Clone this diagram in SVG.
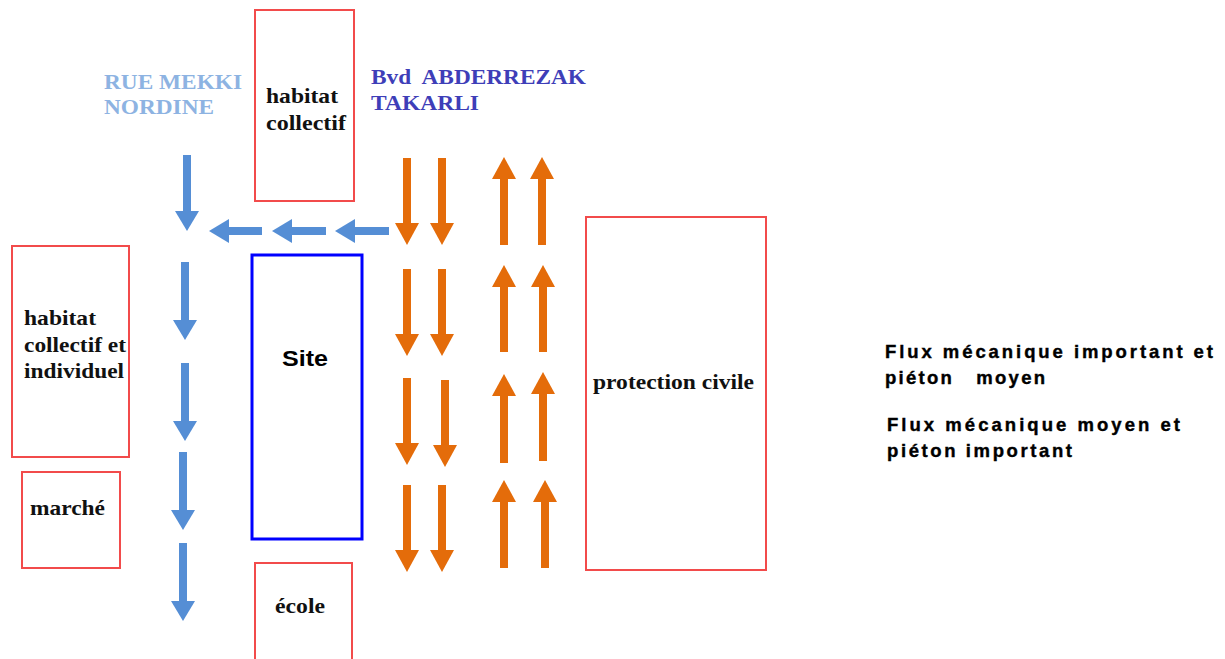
<svg xmlns="http://www.w3.org/2000/svg" width="1225" height="659" viewBox="0 0 1225 659">
<style>
.box{fill:#fff;stroke:#f24b4b;stroke-width:2}
.site{fill:#fff;stroke:#0000ff;stroke-width:3}
.lbl{font-family:"Liberation Serif","Times New Roman",serif;font-weight:bold;font-size:22px;fill:#111}
.road1{font-family:"Liberation Serif","Times New Roman",serif;font-weight:bold;font-size:22px;fill:#8db3e2;white-space:pre}
.road2{font-family:"Liberation Serif","Times New Roman",serif;font-weight:bold;font-size:22px;fill:#3e3eb8;white-space:pre}
.sans{font-family:"Liberation Sans",Arial,sans-serif;font-weight:bold;fill:#000}
.leg{font-family:"Liberation Sans",Arial,sans-serif;font-weight:bold;font-size:18.5px;fill:#000;stroke:#000;stroke-width:0.4;white-space:pre}
.b{stroke:#558ed5;stroke-width:8;fill:none}
.o{stroke:#e46c0a;stroke-width:8;fill:none}
</style>
<defs>
<marker id="hb" markerUnits="userSpaceOnUse" viewBox="0 0 20 24" refX="0" refY="12" markerWidth="20" markerHeight="24" orient="auto"><path d="M0,0 L20,12 L0,24 Z" fill="#558ed5"/></marker>
<marker id="ho" markerUnits="userSpaceOnUse" viewBox="0 0 22 24" refX="0" refY="12" markerWidth="22" markerHeight="24" orient="auto"><path d="M0,0 L22,12 L0,24 Z" fill="#e46c0a"/></marker>
</defs>
<rect width="1225" height="659" fill="#fff"/>

<g id="road-labels">
<text class="road1" x="104" y="89" textLength="138" lengthAdjust="spacingAndGlyphs">RUE MEKKI</text>
<text class="road1" x="104" y="114" textLength="110" lengthAdjust="spacingAndGlyphs">NORDINE</text>
<text class="road2" x="371" y="84" textLength="215" lengthAdjust="spacingAndGlyphs">Bvd  ABDERREZAK</text>
<text class="road2" x="371" y="110" textLength="108" lengthAdjust="spacingAndGlyphs">TAKARLI</text>
</g>

<g id="habitat-collectif">
<rect class="box" x="255" y="10" width="99" height="191"/>
<text class="lbl" x="266" y="103" textLength="72" lengthAdjust="spacingAndGlyphs">habitat</text>
<text class="lbl" x="266" y="130" textLength="80" lengthAdjust="spacingAndGlyphs">collectif</text>
</g>

<g id="habitat-collectif-individuel">
<rect class="box" x="12" y="246" width="117" height="211"/>
<text class="lbl" x="24" y="325" textLength="72" lengthAdjust="spacingAndGlyphs">habitat</text>
<text class="lbl" x="24" y="352" textLength="102" lengthAdjust="spacingAndGlyphs">collectif et</text>
<text class="lbl" x="24" y="378" textLength="100" lengthAdjust="spacingAndGlyphs">individuel</text>
</g>

<g id="marche">
<rect class="box" x="22" y="472" width="98" height="96"/>
<text class="lbl" x="30" y="515" textLength="75" lengthAdjust="spacingAndGlyphs">marché</text>
</g>

<g id="site">
<rect class="site" x="252" y="255" width="110" height="284"/>
<text class="sans" x="282" y="366" font-size="22" textLength="46" lengthAdjust="spacingAndGlyphs">Site</text>
</g>

<g id="ecole">
<rect class="box" x="255" y="563" width="97" height="100"/>
<text class="lbl" x="275" y="613" textLength="50" lengthAdjust="spacingAndGlyphs">école</text>
</g>

<g id="protection-civile">
<rect class="box" x="586" y="217" width="180" height="353"/>
<text class="lbl" x="593" y="389" textLength="161" lengthAdjust="spacingAndGlyphs">protection civile</text>
</g>

<g id="legend">
<text class="leg" x="885" y="358" textLength="328" lengthAdjust="spacing">Flux mécanique important et</text>
<text class="leg" x="885" y="384" textLength="160" lengthAdjust="spacing">piéton   moyen</text>
<text class="leg" x="887" y="431" textLength="293" lengthAdjust="spacing">Flux mécanique moyen et</text>
<text class="leg" x="887" y="457" textLength="185" lengthAdjust="spacing">piéton important</text>
</g>

<g id="connectors">
<line class="b" x1="187" y1="155" x2="187" y2="211" marker-end="url(#hb)"/>
<line class="b" x1="185" y1="262" x2="185" y2="320" marker-end="url(#hb)"/>
<line class="b" x1="185" y1="363" x2="185" y2="421" marker-end="url(#hb)"/>
<line class="b" x1="183" y1="452" x2="183" y2="510" marker-end="url(#hb)"/>
<line class="b" x1="183" y1="543" x2="183" y2="601" marker-end="url(#hb)"/>
<line class="b" x1="262" y1="231" x2="229" y2="231" marker-end="url(#hb)"/>
<line class="b" x1="326" y1="231" x2="292" y2="231" marker-end="url(#hb)"/>
<line class="b" x1="389" y1="231" x2="355" y2="231" marker-end="url(#hb)"/>

<line class="o" x1="407" y1="158" x2="407" y2="223" marker-end="url(#ho)"/>
<line class="o" x1="442" y1="158" x2="442" y2="223" marker-end="url(#ho)"/>
<line class="o" x1="407" y1="269" x2="407" y2="334" marker-end="url(#ho)"/>
<line class="o" x1="442" y1="269" x2="442" y2="334" marker-end="url(#ho)"/>
<line class="o" x1="407" y1="378" x2="407" y2="443" marker-end="url(#ho)"/>
<line class="o" x1="445" y1="380" x2="445" y2="445" marker-end="url(#ho)"/>
<line class="o" x1="407" y1="485" x2="407" y2="550" marker-end="url(#ho)"/>
<line class="o" x1="442" y1="485" x2="442" y2="550" marker-end="url(#ho)"/>

<line class="o" x1="504" y1="245" x2="504" y2="179" marker-end="url(#ho)"/>
<line class="o" x1="542" y1="245" x2="542" y2="179" marker-end="url(#ho)"/>
<line class="o" x1="504" y1="352" x2="504" y2="287" marker-end="url(#ho)"/>
<line class="o" x1="543" y1="352" x2="543" y2="287" marker-end="url(#ho)"/>
<line class="o" x1="504" y1="463" x2="504" y2="396" marker-end="url(#ho)"/>
<line class="o" x1="543" y1="461" x2="543" y2="394" marker-end="url(#ho)"/>
<line class="o" x1="504" y1="568" x2="504" y2="502" marker-end="url(#ho)"/>
<line class="o" x1="545" y1="568" x2="545" y2="502" marker-end="url(#ho)"/>
</g>
</svg>
